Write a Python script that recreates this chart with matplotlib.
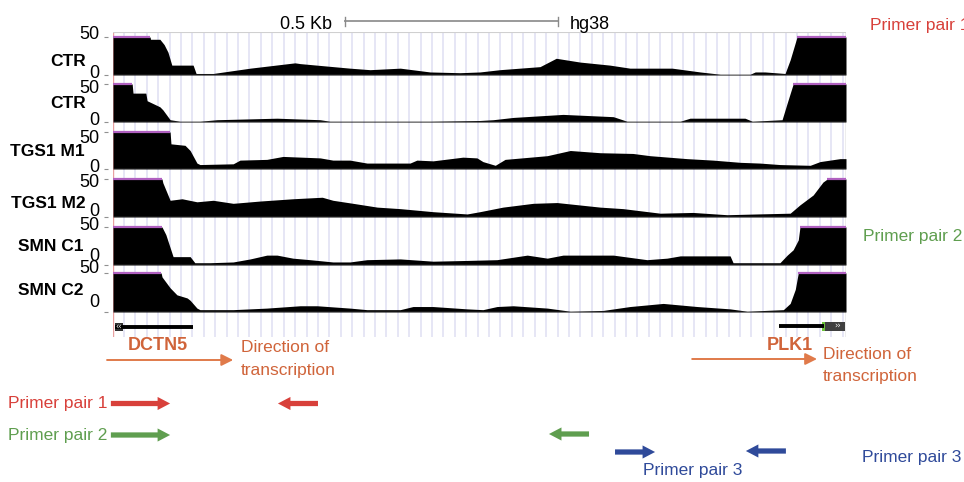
import numpy as np
import matplotlib
matplotlib.use('Agg')
import matplotlib.pyplot as plt
from matplotlib.patches import Rectangle

plt.rcParams['font.family'] = ['Liberation Sans', 'DejaVu Sans']

W, H = 964, 482
WINDOW_BP = 1720          # width of the browser window in bp
SCALE_BP = 500            # scale bar length (0.5 Kb)

# ---------------- coverage data (bp position, read depth; >50 is clipped) ----
track_names = ['CTR', 'CTR', 'TGS1 M1', 'TGS1 M2', 'SMN C1', 'SMN C2']

ctr1_pos = [0, 87, 88, 110, 120, 129, 138, 188, 195, 235, 322, 427, 439, 556, 603, 674,
            744, 814, 861, 908, 1002, 1040, 1096, 1166, 1213, 1312, 1378, 1425, 1495,
            1507, 1530, 1577, 1589, 1605, 1720]
ctr1_val = [60, 60, 47, 47, 40, 30, 13, 13, 2, 2, 9, 16, 15, 9, 7, 9,
            4, 3, 4, 7, 11, 22, 17, 13, 9, 9, 4, 1, 1,
            4, 4, 2, 20, 60, 60]

ctr2_pos = [0, 45, 47, 77, 80, 110, 117, 134, 157, 204, 244, 385, 486, 509, 744, 861,
            892, 939, 1056, 1174, 1206, 1331, 1354, 1483, 1500, 1570, 1582, 1596, 1720]
ctr2_val = [60, 60, 38, 38, 28, 20, 16, 3, 1, 1, 3, 5, 3, 1, 1, 2,
            3, 6, 10, 7, 1, 1, 5, 5, 1, 3, 25, 60, 60]

tgs1m1_pos = [0, 134, 136, 169, 181, 197, 204, 282, 298, 361, 399, 486, 516, 556, 596,
              697, 713, 751, 821, 854, 868, 897, 920, 1019, 1073, 1143, 1220, 1260, 1347,
              1408, 1472, 1518, 1565, 1636, 1659, 1706, 1720]
tgs1m1_val = [60, 60, 34, 32, 25, 8, 6, 7, 12, 13, 17, 15, 12, 12, 8,
              8, 12, 11, 16, 15, 10, 5, 13, 18, 25, 22, 21, 18, 14,
              12, 9, 8, 6, 5, 10, 14, 14]

tgs1m2_pos = [0, 115, 117, 134, 162, 197, 235, 282, 345, 422, 491, 516, 563, 620, 674,
              751, 831, 861, 915, 986, 1042, 1143, 1197, 1284, 1361, 1441, 1511, 1589,
              1612, 1643, 1666, 1676, 1720]
tgs1m2_val = [60, 60, 45, 22, 24, 20, 22, 18, 21, 24, 26, 22, 18, 13, 11,
              7, 4, 7, 13, 18, 19, 13, 11, 5, 6, 3, 4, 5,
              16, 29, 46, 60, 60]

smnc1_pos = [0, 115, 124, 141, 181, 192, 228, 282, 322, 361, 385, 422, 462, 516, 556,
             596, 674, 751, 831, 901, 972, 1019, 1056, 1174, 1253, 1300, 1331, 1448,
             1455, 1565, 1582, 1596, 1608, 1612, 1720]
smnc1_val = [60, 60, 40, 11, 11, 3, 3, 4, 8, 13, 13, 9, 7, 4, 4,
             7, 8, 5, 6, 7, 13, 9, 13, 13, 7, 9, 12, 12,
             3, 3, 13, 20, 33, 60, 60]

smnc2_pos = [0, 113, 115, 134, 150, 174, 181, 197, 204, 282, 361, 439, 479, 556, 596,
             674, 704, 751, 831, 868, 901, 939, 1019, 1073, 1150, 1213, 1291, 1371,
             1448, 1488, 1573, 1589, 1601, 1608, 1720]
smnc2_val = [60, 60, 45, 31, 22, 18, 15, 5, 3, 3, 5, 8, 8, 5, 3,
             3, 7, 7, 4, 3, 7, 8, 5, 1, 2, 7, 11, 7,
             4, 1, 3, 11, 29, 60, 60]

tracks = [(ctr1_pos, ctr1_val), (ctr2_pos, ctr2_val), (tgs1m1_pos, tgs1m1_val),
          (tgs1m2_pos, tgs1m2_val), (smnc1_pos, smnc1_val), (smnc2_pos, smnc2_val)]

# ---------------- gene models and primers (bp) --------------------------------
dctn5_span = [5, 188]
dctn5_exon = [5, 23]
plk1_span = [1563, 1668]
plk1_utr = [1664, 1671]
plk1_exon = [1671, 1718]
dctn5_tx_arrow = [-14, 282]
plk1_tx_arrow = [1359, 1652]

primer1_fwd = [-5, 134]
primer1_rev = [481, 387]
primer2_fwd = [-5, 134]
primer2_rev = [1117, 1023]
primer3_fwd = [1178, 1272]
primer3_rev = [1579, 1485]

scale_start = 545

# ---------------- colours ------------------------------------------------------
RED = '#d8403a'
GREEN = '#5f9e4f'
BLUE = '#2f4a9a'
ORANGE = '#d0643a'
ORANGE_ARROW = '#e07a4a'
PURPLE = '#b060c0'

# ---------------- layout (pixels) ---------------------------------------------
PX_L, PX_R = 113, 846
tops = [37, 84, 132, 179, 227, 273]
bases = [75, 122, 169, 217, 265, 312]

fig = plt.figure(figsize=(W / 100, H / 100), dpi=100)


def rect(l, t, r, b):
    return [l / W, 1 - b / H, (r - l) / W, (b - t) / H]


def ftext(x, y, s, **kw):
    fig.text(x / W, 1 - y / H, s, **kw)


def bpx(px):
    return (px - PX_L) * WINDOW_BP / (PX_R - PX_L)


# background guide lines
bg = fig.add_axes(rect(PX_L, 32, PX_R, 337))
bg.set_xlim(0, WINDOW_BP)
bg.set_ylim(0, 1)
bg.axis('off')
grid_bp = np.arange(25.8, WINDOW_BP, 26.77)
bg.vlines(grid_bp, 0, 1, color='#dfdff3', lw=1.1)
bg.axvline(-1, color='#e8a0a0', lw=1.0)
bg.axvline(WINDOW_BP, color='#a8a8a8', lw=1.0)
bg.axhline(1, color='#d0d0d0', lw=0.8)

# coverage tracks
for i, (pos, val) in enumerate(tracks):
    ax = fig.add_axes(rect(PX_L, tops[i], PX_R, bases[i]))
    ax.set_xlim(0, WINDOW_BP)
    ax.set_ylim(0, 50)
    ax.patch.set_alpha(0)
    for s in ax.spines.values():
        s.set_visible(False)
    ax.spines['left'].set_position(('outward', 3.6))
    ax.set_xticks([])
    ax.set_yticks([0, 50])
    ax.tick_params(axis='y', length=2.9, width=0.8, color='#909090', labelleft=False)
    p = np.asarray(pos, float)
    v = np.asarray(val, float)
    ax.fill_between(p, 0, np.minimum(v, 50), color='black', lw=0)
    ax.plot(p, np.where(v >= 50, 50, np.nan), color=PURPLE, lw=1.6, clip_on=False,
            solid_capstyle='butt')
    ax.axhline(0, color='#7a7a7a', lw=1.0)

# overlay: x in bp, y in pixels
ov = fig.add_axes([0, 0, 1, 1])
ov.set_xlim(bpx(0), bpx(W))
ov.set_ylim(H, 0)
ov.axis('off')
ov.patch.set_alpha(0)

# scale bar
ov.plot([scale_start, scale_start + SCALE_BP], [21, 21], color='#9a9a9a', lw=1.4)
for xb in (scale_start, scale_start + SCALE_BP):
    ov.plot([xb, xb], [16.5, 25.5], color='#8a8a8a', lw=1.0)

# gene models
ov.plot(dctn5_span, [327, 327], color='black', lw=2.8, solid_capstyle='butt')
ov.add_patch(Rectangle((dctn5_exon[0], 323), dctn5_exon[1] - dctn5_exon[0], 8,
                       color='#303030', lw=0))
ov.text(np.mean(dctn5_exon), 327, '‹‹', color='white', fontsize=6, ha='center',
        va='center', family=['DejaVu Sans'])
ov.plot(plk1_span, [326, 326], color='black', lw=2.8, solid_capstyle='butt')
ov.add_patch(Rectangle((plk1_utr[0], 321.5), plk1_utr[1] - plk1_utr[0], 9,
                       color='#6cc23a', lw=0))
ov.add_patch(Rectangle((plk1_exon[0], 321.5), plk1_exon[1] - plk1_exon[0], 9,
                       color='#404040', lw=0))
ov.text(np.mean(plk1_exon) + 6, 326, '››', color='white', fontsize=6, ha='center',
        va='center', family=['DejaVu Sans'])


def tx_arrow(span, y):
    ov.annotate('', xy=(span[1], y), xytext=(span[0], y),
                arrowprops=dict(arrowstyle='-|>,head_length=0.5,head_width=0.25',
                                color=ORANGE_ARROW, lw=1.4, shrinkA=0, shrinkB=0,
                                mutation_scale=14))


def primer_arrow(span, y, color):
    ov.annotate('', xy=(span[1], y), xytext=(span[0], y),
                arrowprops=dict(arrowstyle='simple,head_length=1.0,head_width=1.05,tail_width=0.42',
                                color=color, lw=0, shrinkA=0, shrinkB=0,
                                mutation_scale=9))


tx_arrow(dctn5_tx_arrow, 360)
tx_arrow(plk1_tx_arrow, 359)
primer_arrow(primer1_fwd, 403.5, RED)
primer_arrow(primer1_rev, 403.5, RED)
primer_arrow(primer2_fwd, 435, GREEN)
primer_arrow(primer2_rev, 434, GREEN)
primer_arrow(primer3_fwd, 452, BLUE)
primer_arrow(primer3_rev, 451, BLUE)

# ---------------- texts ----------------------------------------------------------
FS = 13
ftext(332, 29, '0.5 Kb', ha='right', va='baseline', fontsize=FS)
ftext(570, 29, 'hg38', ha='left', va='baseline', fontsize=FS)

name_base = [66, 108, 156, 208, 251, 295]
name_right = [86, 86, 85, 86, 83, 84]
lab50_base = [39, 93, 143, 187, 230, 273]
lab0_base = [78, 125, 172, 216, 261, 307]
for i, name in enumerate(track_names):
    ftext(99, lab50_base[i], '50', ha='right', va='baseline', fontsize=FS)
    ftext(99, lab0_base[i], '0', ha='right', va='baseline', fontsize=FS)
    ftext(name_right[i], name_base[i], name, ha='right', va='baseline', fontsize=12.5,
          fontweight='bold')

FP = 12.5
ftext(870, 30, 'Primer pair 1', color=RED, fontsize=FP, va='baseline')
ftext(863, 241, 'Primer pair 2', color=GREEN, fontsize=FP, va='baseline')
ftext(862, 462, 'Primer pair 3', color=BLUE, fontsize=FP, va='baseline')
ftext(643, 475, 'Primer pair 3', color=BLUE, fontsize=FP, va='baseline')
ftext(8, 408, 'Primer pair 1', color=RED, fontsize=FP, va='baseline')
ftext(8, 440, 'Primer pair 2', color=GREEN, fontsize=FP, va='baseline')

ftext(128, 350, 'DCTN5', color=ORANGE, fontsize=FS, fontweight='bold', va='baseline')
ftext(241, 352, 'Direction of', color=ORANGE, fontsize=FP, va='baseline')
ftext(241, 375, 'transcription', color=ORANGE, fontsize=FP, va='baseline')
ftext(767, 350, 'PLK1', color=ORANGE, fontsize=FS, fontweight='bold', va='baseline')
ftext(823, 359, 'Direction of', color=ORANGE, fontsize=FP, va='baseline')
ftext(823, 381, 'transcription', color=ORANGE, fontsize=FP, va='baseline')

fig.savefig('out.png', dpi=100)
